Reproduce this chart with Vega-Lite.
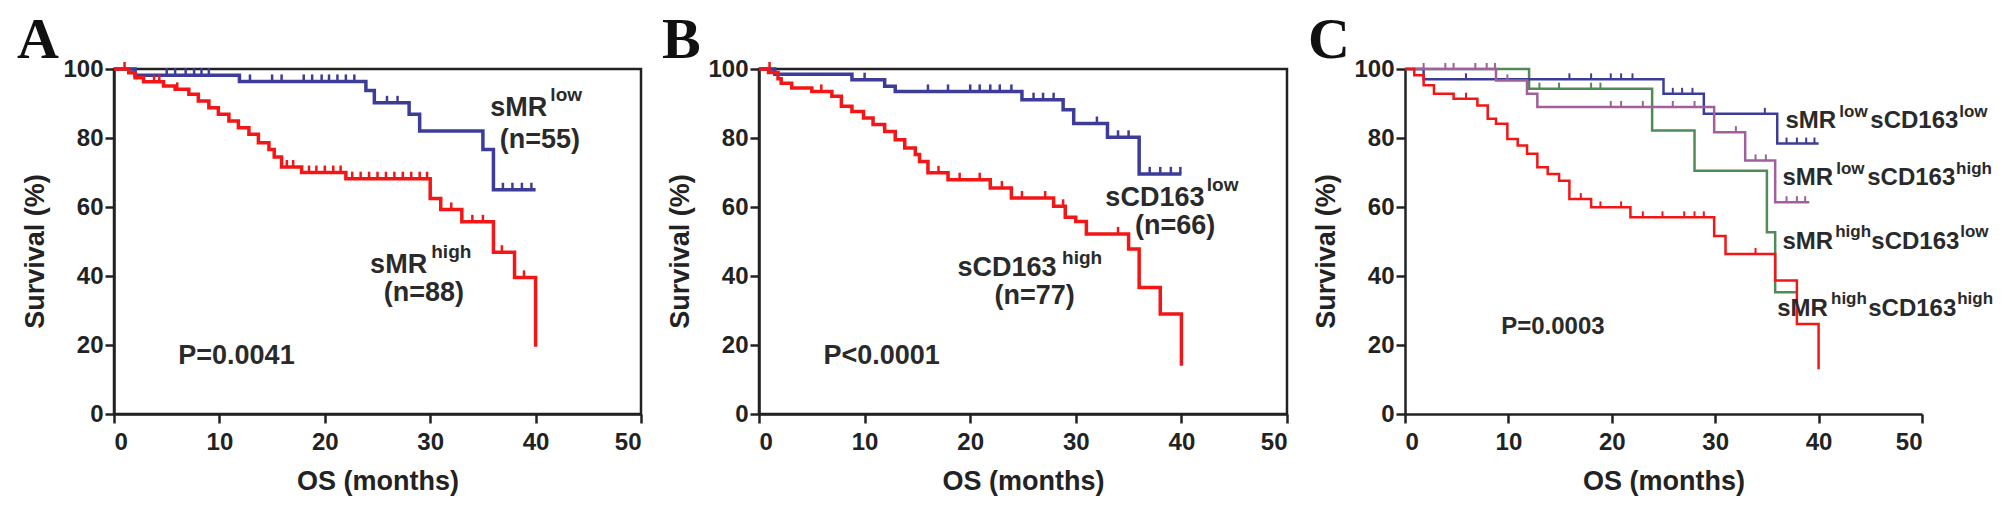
{
  "$schema": "https://vega.github.io/schema/vega-lite/v6.json",
  "background": "white",
  "padding": {"left": 15, "top": 10, "right": 0, "bottom": 0},
  "spacing": 118,
  "bounds": "flush",
  "config": {
    "view": {"stroke": "#222222", "strokeWidth": 2.5},
    "axis": {
      "grid": false,
      "domainColor": "#222222",
      "domainWidth": 2.5,
      "tickColor": "#222222",
      "tickWidth": 2.5,
      "tickSize": 9,
      "labelFont": "Liberation Sans",
      "labelFontWeight": "bold",
      "labelFontSize": 24,
      "labelColor": "#222222",
      "titleFont": "Liberation Sans",
      "titleFontWeight": "bold",
      "titleFontSize": 27,
      "titleColor": "#222222"
    },
    "axisX": {"labelPadding": 7, "titleY": 75, "titleBaseline": "alphabetic"},
    "axisY": {"labelPadding": 2, "titleX": -71, "titleY": 182, "titleBaseline": "alphabetic", "titleAlign": "center"},
    "title": {
      "anchor": "start",
      "frame": "group",
      "dx": -97,
      "offset": -13,
      "baseline": "alphabetic",
      "font": "Liberation Serif",
      "fontSize": 58,
      "fontWeight": "bold",
      "color": "#111111"
    }
  },
  "datasets": {
    "curves": [
      {"panel": "A", "group": "sMR low", "month": 0, "surv": 100},
      {"panel": "A", "group": "sMR low", "month": 2.0, "surv": 98.2},
      {"panel": "A", "group": "sMR low", "month": 11.9, "surv": 96.4},
      {"panel": "A", "group": "sMR low", "month": 23.9, "surv": 93.8},
      {"panel": "A", "group": "sMR low", "month": 24.7, "surv": 90.2},
      {"panel": "A", "group": "sMR low", "month": 28.0, "surv": 86.9},
      {"panel": "A", "group": "sMR low", "month": 29.0, "surv": 82.0},
      {"panel": "A", "group": "sMR low", "month": 35.0, "surv": 76.7},
      {"panel": "A", "group": "sMR low", "month": 36.0, "surv": 65.0},
      {"panel": "A", "group": "sMR low", "month": 40.0, "surv": 65.0},

      {"panel": "A", "group": "sMR high", "month": 0, "surv": 100},
      {"panel": "A", "group": "sMR high", "month": 1.4, "surv": 98.9},
      {"panel": "A", "group": "sMR high", "month": 2.0, "surv": 97.5},
      {"panel": "A", "group": "sMR high", "month": 2.8, "surv": 96.3},
      {"panel": "A", "group": "sMR high", "month": 4.7, "surv": 95.1},
      {"panel": "A", "group": "sMR high", "month": 5.8, "surv": 94.1},
      {"panel": "A", "group": "sMR high", "month": 7.1, "surv": 92.7},
      {"panel": "A", "group": "sMR high", "month": 8.0, "surv": 90.7},
      {"panel": "A", "group": "sMR high", "month": 9.0, "surv": 88.8},
      {"panel": "A", "group": "sMR high", "month": 9.9, "surv": 86.9},
      {"panel": "A", "group": "sMR high", "month": 10.9, "surv": 84.9},
      {"panel": "A", "group": "sMR high", "month": 11.8, "surv": 83.0},
      {"panel": "A", "group": "sMR high", "month": 12.8, "surv": 81.1},
      {"panel": "A", "group": "sMR high", "month": 13.7, "surv": 78.6},
      {"panel": "A", "group": "sMR high", "month": 14.7, "surv": 76.7},
      {"panel": "A", "group": "sMR high", "month": 15.2, "surv": 74.5},
      {"panel": "A", "group": "sMR high", "month": 15.9, "surv": 71.6},
      {"panel": "A", "group": "sMR high", "month": 17.8, "surv": 70.0},
      {"panel": "A", "group": "sMR high", "month": 22.0, "surv": 68.2},
      {"panel": "A", "group": "sMR high", "month": 30.0, "surv": 62.5},
      {"panel": "A", "group": "sMR high", "month": 31.0, "surv": 59.3},
      {"panel": "A", "group": "sMR high", "month": 33.0, "surv": 55.7},
      {"panel": "A", "group": "sMR high", "month": 36.0, "surv": 46.9},
      {"panel": "A", "group": "sMR high", "month": 38.0, "surv": 39.6},
      {"panel": "A", "group": "sMR high", "month": 40.0, "surv": 19.5},

      {"panel": "B", "group": "sCD163 low", "month": 0, "surv": 100},
      {"panel": "B", "group": "sCD163 low", "month": 1.5, "surv": 98.5},
      {"panel": "B", "group": "sCD163 low", "month": 8.8, "surv": 96.9},
      {"panel": "B", "group": "sCD163 low", "month": 11.9, "surv": 95.0},
      {"panel": "B", "group": "sCD163 low", "month": 12.9, "surv": 93.5},
      {"panel": "B", "group": "sCD163 low", "month": 24.9, "surv": 91.1},
      {"panel": "B", "group": "sCD163 low", "month": 28.8, "surv": 88.2},
      {"panel": "B", "group": "sCD163 low", "month": 29.8, "surv": 84.2},
      {"panel": "B", "group": "sCD163 low", "month": 33.0, "surv": 80.2},
      {"panel": "B", "group": "sCD163 low", "month": 36.0, "surv": 69.6},
      {"panel": "B", "group": "sCD163 low", "month": 40.0, "surv": 69.6},

      {"panel": "B", "group": "sCD163 high", "month": 0, "surv": 100},
      {"panel": "B", "group": "sCD163 high", "month": 0.9, "surv": 99.0},
      {"panel": "B", "group": "sCD163 high", "month": 1.8, "surv": 97.2},
      {"panel": "B", "group": "sCD163 high", "month": 2.1, "surv": 95.9},
      {"panel": "B", "group": "sCD163 high", "month": 3.1, "surv": 94.5},
      {"panel": "B", "group": "sCD163 high", "month": 5.0, "surv": 93.5},
      {"panel": "B", "group": "sCD163 high", "month": 6.9, "surv": 92.1},
      {"panel": "B", "group": "sCD163 high", "month": 7.8, "surv": 89.2},
      {"panel": "B", "group": "sCD163 high", "month": 8.8, "surv": 87.7},
      {"panel": "B", "group": "sCD163 high", "month": 9.9, "surv": 85.8},
      {"panel": "B", "group": "sCD163 high", "month": 10.8, "surv": 83.9},
      {"panel": "B", "group": "sCD163 high", "month": 11.9, "surv": 81.9},
      {"panel": "B", "group": "sCD163 high", "month": 12.9, "surv": 79.5},
      {"panel": "B", "group": "sCD163 high", "month": 13.8, "surv": 77.1},
      {"panel": "B", "group": "sCD163 high", "month": 14.8, "surv": 75.2},
      {"panel": "B", "group": "sCD163 high", "month": 15.2, "surv": 73.2},
      {"panel": "B", "group": "sCD163 high", "month": 16.0, "surv": 69.9},
      {"panel": "B", "group": "sCD163 high", "month": 17.9, "surv": 67.9},
      {"panel": "B", "group": "sCD163 high", "month": 21.9, "surv": 65.5},
      {"panel": "B", "group": "sCD163 high", "month": 23.9, "surv": 62.6},
      {"panel": "B", "group": "sCD163 high", "month": 27.9, "surv": 60.2},
      {"panel": "B", "group": "sCD163 high", "month": 29.0, "surv": 57.0},
      {"panel": "B", "group": "sCD163 high", "month": 30.0, "surv": 55.8},
      {"panel": "B", "group": "sCD163 high", "month": 31.0, "surv": 52.2},
      {"panel": "B", "group": "sCD163 high", "month": 35.0, "surv": 47.8},
      {"panel": "B", "group": "sCD163 high", "month": 36.0, "surv": 36.7},
      {"panel": "B", "group": "sCD163 high", "month": 38.0, "surv": 29.0},
      {"panel": "B", "group": "sCD163 high", "month": 40.0, "surv": 14.0},

      {"panel": "C", "group": "sMR high sCD163 low", "month": 0, "surv": 100},
      {"panel": "C", "group": "sMR high sCD163 low", "month": 12.0, "surv": 94.3},
      {"panel": "C", "group": "sMR high sCD163 low", "month": 23.9, "surv": 82.2},
      {"panel": "C", "group": "sMR high sCD163 low", "month": 28.0, "surv": 70.5},
      {"panel": "C", "group": "sMR high sCD163 low", "month": 35.0, "surv": 52.7},
      {"panel": "C", "group": "sMR high sCD163 low", "month": 35.8, "surv": 35.3},
      {"panel": "C", "group": "sMR high sCD163 low", "month": 37.8, "surv": 35.3},

      {"panel": "C", "group": "sMR low sCD163 low", "month": 0, "surv": 100},
      {"panel": "C", "group": "sMR low sCD163 low", "month": 1.8, "surv": 97.0},
      {"panel": "C", "group": "sMR low sCD163 low", "month": 25.0, "surv": 92.8},
      {"panel": "C", "group": "sMR low sCD163 low", "month": 28.9, "surv": 87.0},
      {"panel": "C", "group": "sMR low sCD163 low", "month": 36.0, "surv": 78.4},
      {"panel": "C", "group": "sMR low sCD163 low", "month": 40.0, "surv": 78.4},

      {"panel": "C", "group": "sMR low sCD163 high", "month": 0, "surv": 100},
      {"panel": "C", "group": "sMR low sCD163 high", "month": 8.8, "surv": 96.7},
      {"panel": "C", "group": "sMR low sCD163 high", "month": 11.8, "surv": 92.8},
      {"panel": "C", "group": "sMR low sCD163 high", "month": 12.8, "surv": 89.0},
      {"panel": "C", "group": "sMR low sCD163 high", "month": 29.9, "surv": 81.7},
      {"panel": "C", "group": "sMR low sCD163 high", "month": 32.9, "surv": 73.5},
      {"panel": "C", "group": "sMR low sCD163 high", "month": 35.8, "surv": 61.4},
      {"panel": "C", "group": "sMR low sCD163 high", "month": 39.1, "surv": 61.4},

      {"panel": "C", "group": "sMR high sCD163 high", "month": 0, "surv": 100},
      {"panel": "C", "group": "sMR high sCD163 high", "month": 0.9, "surv": 98.2},
      {"panel": "C", "group": "sMR high sCD163 high", "month": 1.8, "surv": 95.3},
      {"panel": "C", "group": "sMR high sCD163 high", "month": 2.8, "surv": 92.8},
      {"panel": "C", "group": "sMR high sCD163 high", "month": 4.7, "surv": 91.4},
      {"panel": "C", "group": "sMR high sCD163 high", "month": 7.0, "surv": 89.4},
      {"panel": "C", "group": "sMR high sCD163 high", "month": 8.0, "surv": 85.6},
      {"panel": "C", "group": "sMR high sCD163 high", "month": 8.8, "surv": 84.1},
      {"panel": "C", "group": "sMR high sCD163 high", "month": 9.9, "surv": 79.7},
      {"panel": "C", "group": "sMR high sCD163 high", "month": 10.9, "surv": 77.8},
      {"panel": "C", "group": "sMR high sCD163 high", "month": 11.8, "surv": 75.4},
      {"panel": "C", "group": "sMR high sCD163 high", "month": 12.8, "surv": 71.5},
      {"panel": "C", "group": "sMR high sCD163 high", "month": 13.8, "surv": 69.6},
      {"panel": "C", "group": "sMR high sCD163 high", "month": 14.9, "surv": 67.6},
      {"panel": "C", "group": "sMR high sCD163 high", "month": 15.9, "surv": 62.3},
      {"panel": "C", "group": "sMR high sCD163 high", "month": 18.0, "surv": 59.9},
      {"panel": "C", "group": "sMR high sCD163 high", "month": 21.8, "surv": 57.0},
      {"panel": "C", "group": "sMR high sCD163 high", "month": 29.9, "surv": 51.6},
      {"panel": "C", "group": "sMR high sCD163 high", "month": 31.0, "surv": 46.4},
      {"panel": "C", "group": "sMR high sCD163 high", "month": 35.8, "surv": 38.7},
      {"panel": "C", "group": "sMR high sCD163 high", "month": 37.9, "surv": 26.1},
      {"panel": "C", "group": "sMR high sCD163 high", "month": 40.0, "surv": 13.0}
    ],
    "censored": [
      {"panel": "A", "group": "sMR low", "month": 5.0, "surv": 98.2},
      {"panel": "A", "group": "sMR low", "month": 5.8, "surv": 98.2},
      {"panel": "A", "group": "sMR low", "month": 6.8, "surv": 98.2},
      {"panel": "A", "group": "sMR low", "month": 7.6, "surv": 98.2},
      {"panel": "A", "group": "sMR low", "month": 8.3, "surv": 98.2},
      {"panel": "A", "group": "sMR low", "month": 9.0, "surv": 98.2},
      {"panel": "A", "group": "sMR low", "month": 12.9, "surv": 96.4},
      {"panel": "A", "group": "sMR low", "month": 15.0, "surv": 96.4},
      {"panel": "A", "group": "sMR low", "month": 15.9, "surv": 96.4},
      {"panel": "A", "group": "sMR low", "month": 18.0, "surv": 96.4},
      {"panel": "A", "group": "sMR low", "month": 18.8, "surv": 96.4},
      {"panel": "A", "group": "sMR low", "month": 19.7, "surv": 96.4},
      {"panel": "A", "group": "sMR low", "month": 20.4, "surv": 96.4},
      {"panel": "A", "group": "sMR low", "month": 21.2, "surv": 96.4},
      {"panel": "A", "group": "sMR low", "month": 22.0, "surv": 96.4},
      {"panel": "A", "group": "sMR low", "month": 22.8, "surv": 96.4},
      {"panel": "A", "group": "sMR low", "month": 25.9, "surv": 90.2},
      {"panel": "A", "group": "sMR low", "month": 26.9, "surv": 90.2},
      {"panel": "A", "group": "sMR low", "month": 36.9, "surv": 65.0},
      {"panel": "A", "group": "sMR low", "month": 37.8, "surv": 65.0},
      {"panel": "A", "group": "sMR low", "month": 38.7, "surv": 65.0},
      {"panel": "A", "group": "sMR low", "month": 39.6, "surv": 65.0},

      {"panel": "A", "group": "sMR high", "month": 1.0, "surv": 100},
      {"panel": "A", "group": "sMR high", "month": 3.8, "surv": 96.3},
      {"panel": "A", "group": "sMR high", "month": 4.3, "surv": 96.3},
      {"panel": "A", "group": "sMR high", "month": 6.0, "surv": 94.1},
      {"panel": "A", "group": "sMR high", "month": 16.4, "surv": 71.6},
      {"panel": "A", "group": "sMR high", "month": 17.0, "surv": 71.6},
      {"panel": "A", "group": "sMR high", "month": 18.5, "surv": 70.0},
      {"panel": "A", "group": "sMR high", "month": 19.2, "surv": 70.0},
      {"panel": "A", "group": "sMR high", "month": 20.0, "surv": 70.0},
      {"panel": "A", "group": "sMR high", "month": 20.8, "surv": 70.0},
      {"panel": "A", "group": "sMR high", "month": 21.5, "surv": 70.0},
      {"panel": "A", "group": "sMR high", "month": 22.6, "surv": 68.2},
      {"panel": "A", "group": "sMR high", "month": 23.4, "surv": 68.2},
      {"panel": "A", "group": "sMR high", "month": 24.2, "surv": 68.2},
      {"panel": "A", "group": "sMR high", "month": 25.0, "surv": 68.2},
      {"panel": "A", "group": "sMR high", "month": 25.8, "surv": 68.2},
      {"panel": "A", "group": "sMR high", "month": 26.6, "surv": 68.2},
      {"panel": "A", "group": "sMR high", "month": 27.4, "surv": 68.2},
      {"panel": "A", "group": "sMR high", "month": 28.2, "surv": 68.2},
      {"panel": "A", "group": "sMR high", "month": 29.0, "surv": 68.2},
      {"panel": "A", "group": "sMR high", "month": 29.7, "surv": 68.2},
      {"panel": "A", "group": "sMR high", "month": 32.0, "surv": 59.3},
      {"panel": "A", "group": "sMR high", "month": 34.0, "surv": 55.7},
      {"panel": "A", "group": "sMR high", "month": 35.0, "surv": 55.7},
      {"panel": "A", "group": "sMR high", "month": 36.8, "surv": 46.9},
      {"panel": "A", "group": "sMR high", "month": 38.9, "surv": 39.6},

      {"panel": "B", "group": "sCD163 low", "month": 10.0, "surv": 96.9},
      {"panel": "B", "group": "sCD163 low", "month": 16.0, "surv": 93.5},
      {"panel": "B", "group": "sCD163 low", "month": 17.9, "surv": 93.5},
      {"panel": "B", "group": "sCD163 low", "month": 20.0, "surv": 93.5},
      {"panel": "B", "group": "sCD163 low", "month": 20.9, "surv": 93.5},
      {"panel": "B", "group": "sCD163 low", "month": 21.9, "surv": 93.5},
      {"panel": "B", "group": "sCD163 low", "month": 22.8, "surv": 93.5},
      {"panel": "B", "group": "sCD163 low", "month": 23.9, "surv": 93.5},
      {"panel": "B", "group": "sCD163 low", "month": 26.0, "surv": 91.1},
      {"panel": "B", "group": "sCD163 low", "month": 26.9, "surv": 91.1},
      {"panel": "B", "group": "sCD163 low", "month": 27.9, "surv": 91.1},
      {"panel": "B", "group": "sCD163 low", "month": 32.0, "surv": 84.2},
      {"panel": "B", "group": "sCD163 low", "month": 34.0, "surv": 80.2},
      {"panel": "B", "group": "sCD163 low", "month": 35.0, "surv": 80.2},
      {"panel": "B", "group": "sCD163 low", "month": 37.0, "surv": 69.6},
      {"panel": "B", "group": "sCD163 low", "month": 38.0, "surv": 69.6},
      {"panel": "B", "group": "sCD163 low", "month": 39.0, "surv": 69.6},
      {"panel": "B", "group": "sCD163 low", "month": 39.9, "surv": 69.6},

      {"panel": "B", "group": "sCD163 high", "month": 1.0, "surv": 100},
      {"panel": "B", "group": "sCD163 high", "month": 5.9, "surv": 93.5},
      {"panel": "B", "group": "sCD163 high", "month": 17.0, "surv": 69.9},
      {"panel": "B", "group": "sCD163 high", "month": 19.0, "surv": 67.9},
      {"panel": "B", "group": "sCD163 high", "month": 20.9, "surv": 67.9},
      {"panel": "B", "group": "sCD163 high", "month": 23.0, "surv": 65.5},
      {"panel": "B", "group": "sCD163 high", "month": 24.9, "surv": 62.6},
      {"panel": "B", "group": "sCD163 high", "month": 27.1, "surv": 62.6},
      {"panel": "B", "group": "sCD163 high", "month": 28.8, "surv": 60.2},
      {"panel": "B", "group": "sCD163 high", "month": 34.0, "surv": 52.2},

      {"panel": "C", "group": "sMR high sCD163 low", "month": 13.0, "surv": 94.3},
      {"panel": "C", "group": "sMR high sCD163 low", "month": 14.9, "surv": 94.3},
      {"panel": "C", "group": "sMR high sCD163 low", "month": 18.0, "surv": 94.3},
      {"panel": "C", "group": "sMR high sCD163 low", "month": 18.9, "surv": 94.3},

      {"panel": "C", "group": "sMR low sCD163 low", "month": 5.9, "surv": 97.0},
      {"panel": "C", "group": "sMR low sCD163 low", "month": 15.9, "surv": 97.0},
      {"panel": "C", "group": "sMR low sCD163 low", "month": 18.0, "surv": 97.0},
      {"panel": "C", "group": "sMR low sCD163 low", "month": 19.9, "surv": 97.0},
      {"panel": "C", "group": "sMR low sCD163 low", "month": 20.9, "surv": 97.0},
      {"panel": "C", "group": "sMR low sCD163 low", "month": 22.0, "surv": 97.0},
      {"panel": "C", "group": "sMR low sCD163 low", "month": 25.9, "surv": 92.8},
      {"panel": "C", "group": "sMR low sCD163 low", "month": 26.8, "surv": 92.8},
      {"panel": "C", "group": "sMR low sCD163 low", "month": 27.8, "surv": 92.8},
      {"panel": "C", "group": "sMR low sCD163 low", "month": 34.8, "surv": 87.0},
      {"panel": "C", "group": "sMR low sCD163 low", "month": 36.9, "surv": 78.4},
      {"panel": "C", "group": "sMR low sCD163 low", "month": 37.9, "surv": 78.4},
      {"panel": "C", "group": "sMR low sCD163 low", "month": 38.8, "surv": 78.4},
      {"panel": "C", "group": "sMR low sCD163 low", "month": 39.6, "surv": 78.4},

      {"panel": "C", "group": "sMR low sCD163 high", "month": 1.8, "surv": 100},
      {"panel": "C", "group": "sMR low sCD163 high", "month": 3.9, "surv": 100},
      {"panel": "C", "group": "sMR low sCD163 high", "month": 4.7, "surv": 100},
      {"panel": "C", "group": "sMR low sCD163 high", "month": 6.8, "surv": 100},
      {"panel": "C", "group": "sMR low sCD163 high", "month": 7.9, "surv": 100},
      {"panel": "C", "group": "sMR low sCD163 high", "month": 8.7, "surv": 100},
      {"panel": "C", "group": "sMR low sCD163 high", "month": 9.9, "surv": 96.7},
      {"panel": "C", "group": "sMR low sCD163 high", "month": 19.9, "surv": 89.0},
      {"panel": "C", "group": "sMR low sCD163 high", "month": 20.9, "surv": 89.0},
      {"panel": "C", "group": "sMR low sCD163 high", "month": 23.0, "surv": 89.0},
      {"panel": "C", "group": "sMR low sCD163 high", "month": 25.9, "surv": 89.0},
      {"panel": "C", "group": "sMR low sCD163 high", "month": 28.0, "surv": 89.0},
      {"panel": "C", "group": "sMR low sCD163 high", "month": 32.0, "surv": 81.7},
      {"panel": "C", "group": "sMR low sCD163 high", "month": 33.9, "surv": 73.5},
      {"panel": "C", "group": "sMR low sCD163 high", "month": 34.9, "surv": 73.5},
      {"panel": "C", "group": "sMR low sCD163 high", "month": 36.9, "surv": 61.4},
      {"panel": "C", "group": "sMR low sCD163 high", "month": 37.9, "surv": 61.4},
      {"panel": "C", "group": "sMR low sCD163 high", "month": 38.7, "surv": 61.4},

      {"panel": "C", "group": "sMR high sCD163 high", "month": 5.9, "surv": 91.4},
      {"panel": "C", "group": "sMR high sCD163 high", "month": 17.0, "surv": 62.3},
      {"panel": "C", "group": "sMR high sCD163 high", "month": 18.9, "surv": 59.9},
      {"panel": "C", "group": "sMR high sCD163 high", "month": 20.9, "surv": 59.9},
      {"panel": "C", "group": "sMR high sCD163 high", "month": 23.0, "surv": 57.0},
      {"panel": "C", "group": "sMR high sCD163 high", "month": 24.9, "surv": 57.0},
      {"panel": "C", "group": "sMR high sCD163 high", "month": 27.0, "surv": 57.0},
      {"panel": "C", "group": "sMR high sCD163 high", "month": 28.0, "surv": 57.0},
      {"panel": "C", "group": "sMR high sCD163 high", "month": 28.9, "surv": 57.0},
      {"panel": "C", "group": "sMR high sCD163 high", "month": 33.9, "surv": 46.4}
    ],
    "labels": [
      {"panel": "A", "kind": "main", "month": 35.7, "surv": 86.4, "text": "sMR"},
      {"panel": "A", "kind": "sup", "month": 41.4, "surv": 90.7, "text": "low"},
      {"panel": "A", "kind": "main", "month": 36.6, "surv": 77.1, "text": "(n=55)"},
      {"panel": "A", "kind": "main", "month": 24.3, "surv": 41.0, "text": "sMR"},
      {"panel": "A", "kind": "sup", "month": 30.1, "surv": 45.2, "text": "high"},
      {"panel": "A", "kind": "main", "month": 25.6, "surv": 32.8, "text": "(n=88)"},
      {"panel": "A", "kind": "main", "month": 6.1, "surv": 14.5, "text": "P=0.0041"},

      {"panel": "B", "kind": "main", "month": 32.8, "surv": 60.3, "text": "sCD163"},
      {"panel": "B", "kind": "sup", "month": 42.4, "surv": 64.6, "text": "low"},
      {"panel": "B", "kind": "main", "month": 35.6, "surv": 52.2, "text": "(n=66)"},
      {"panel": "B", "kind": "main", "month": 18.8, "surv": 40.0, "text": "sCD163"},
      {"panel": "B", "kind": "sup", "month": 28.7, "surv": 43.5, "text": "high"},
      {"panel": "B", "kind": "main", "month": 22.3, "surv": 31.9, "text": "(n=77)"},
      {"panel": "B", "kind": "main", "month": 6.1, "surv": 14.5, "text": "P<0.0001"},

      {"panel": "C", "kind": "main", "month": 36.8, "surv": 82.8, "text": "sMR"},
      {"panel": "C", "kind": "sup", "month": 42.0, "surv": 86.0, "text": "low"},
      {"panel": "C", "kind": "main", "month": 45.0, "surv": 82.8, "text": "sCD163"},
      {"panel": "C", "kind": "sup", "month": 53.6, "surv": 86.0, "text": "low"},
      {"panel": "C", "kind": "main", "month": 36.5, "surv": 66.3, "text": "sMR"},
      {"panel": "C", "kind": "sup", "month": 41.7, "surv": 69.5, "text": "low"},
      {"panel": "C", "kind": "main", "month": 44.7, "surv": 66.3, "text": "sCD163"},
      {"panel": "C", "kind": "sup", "month": 53.3, "surv": 69.5, "text": "high"},
      {"panel": "C", "kind": "main", "month": 36.5, "surv": 47.9, "text": "sMR"},
      {"panel": "C", "kind": "sup", "month": 41.6, "surv": 51.3, "text": "high"},
      {"panel": "C", "kind": "main", "month": 45.1, "surv": 47.9, "text": "sCD163"},
      {"panel": "C", "kind": "sup", "month": 53.7, "surv": 51.3, "text": "low"},
      {"panel": "C", "kind": "main", "month": 36.0, "surv": 28.5, "text": "sMR"},
      {"panel": "C", "kind": "sup", "month": 41.2, "surv": 32.0, "text": "high"},
      {"panel": "C", "kind": "main", "month": 44.8, "surv": 28.5, "text": "sCD163"},
      {"panel": "C", "kind": "sup", "month": 53.4, "surv": 32.0, "text": "high"},
      {"panel": "C", "kind": "main", "month": 9.3, "surv": 23.3, "text": "P=0.0003"}
    ]
  },
  "hconcat": [
    {
      "width": 527,
      "height": 345,
      "title": {"text": "A"},
      "encoding": {
        "x": {"field": "month", "type": "quantitative", "scale": {"domain": [0, 50]}, "axis": {"values": [0, 10, 20, 30, 40, 50], "title": "OS (months)"}},
        "y": {"field": "surv", "type": "quantitative", "scale": {"domain": [0, 100]}, "axis": {"values": [0, 20, 40, 60, 80, 100], "title": "Survival (%)"}}
      },
      "layer": [
        {
          "data": {"name": "curves"},
          "transform": [{"filter": "datum.panel === 'A'"}],
          "mark": {"type": "line", "interpolate": "step-after", "strokeWidth": 3.5},
          "encoding": {"color": {"field": "group", "type": "nominal", "legend": null, "scale": {"domain": ["sMR low", "sMR high", "sCD163 low", "sCD163 high", "sMR low sCD163 low", "sMR low sCD163 high", "sMR high sCD163 low", "sMR high sCD163 high"], "range": ["#3d3d99", "#f21616", "#3d3d99", "#f21616", "#3d3d99", "#a0609c", "#4f8a57", "#f21616"]}}}
        },
        {
          "data": {"name": "censored"},
          "transform": [{"filter": "datum.panel === 'A'"}],
          "mark": {"type": "tick", "orient": "vertical", "size": 7, "thickness": 2.5, "yOffset": -3.5, "opacity": 1},
          "encoding": {"color": {"field": "group", "type": "nominal", "legend": null}}
        },
        {
          "data": {"name": "labels"},
          "transform": [{"filter": "datum.panel === 'A' && datum.kind === 'main'"}],
          "mark": {"type": "text", "align": "left", "baseline": "alphabetic", "font": "Liberation Sans", "fontWeight": "bold", "fontSize": 27, "color": "#2a2a2a"},
          "encoding": {"text": {"field": "text"}}
        },
        {
          "data": {"name": "labels"},
          "transform": [{"filter": "datum.panel === 'A' && datum.kind === 'sup'"}],
          "mark": {"type": "text", "align": "left", "baseline": "alphabetic", "font": "Liberation Sans", "fontWeight": "bold", "fontSize": 19, "color": "#2a2a2a"},
          "encoding": {"text": {"field": "text"}}
        }
      ]
    },
    {
      "width": 528,
      "height": 345,
      "title": {"text": "B"},
      "encoding": {
        "x": {"field": "month", "type": "quantitative", "scale": {"domain": [0, 50]}, "axis": {"values": [0, 10, 20, 30, 40, 50], "title": "OS (months)"}},
        "y": {"field": "surv", "type": "quantitative", "scale": {"domain": [0, 100]}, "axis": {"values": [0, 20, 40, 60, 80, 100], "title": "Survival (%)"}}
      },
      "layer": [
        {
          "data": {"name": "curves"},
          "transform": [{"filter": "datum.panel === 'B'"}],
          "mark": {"type": "line", "interpolate": "step-after", "strokeWidth": 3.5},
          "encoding": {"color": {"field": "group", "type": "nominal", "legend": null}}
        },
        {
          "data": {"name": "censored"},
          "transform": [{"filter": "datum.panel === 'B'"}],
          "mark": {"type": "tick", "orient": "vertical", "size": 7, "thickness": 2.5, "yOffset": -3.5, "opacity": 1},
          "encoding": {"color": {"field": "group", "type": "nominal", "legend": null}}
        },
        {
          "data": {"name": "labels"},
          "transform": [{"filter": "datum.panel === 'B' && datum.kind === 'main'"}],
          "mark": {"type": "text", "align": "left", "baseline": "alphabetic", "font": "Liberation Sans", "fontWeight": "bold", "fontSize": 27, "color": "#2a2a2a"},
          "encoding": {"text": {"field": "text"}}
        },
        {
          "data": {"name": "labels"},
          "transform": [{"filter": "datum.panel === 'B' && datum.kind === 'sup'"}],
          "mark": {"type": "text", "align": "left", "baseline": "alphabetic", "font": "Liberation Sans", "fontWeight": "bold", "fontSize": 19, "color": "#2a2a2a"},
          "encoding": {"text": {"field": "text"}}
        }
      ]
    },
    {
      "width": 517,
      "height": 345,
      "title": {"text": "C"},
      "view": {"stroke": null},
      "encoding": {
        "x": {"field": "month", "type": "quantitative", "scale": {"domain": [0, 50]}, "axis": {"values": [0, 10, 20, 30, 40, 50], "title": "OS (months)"}},
        "y": {"field": "surv", "type": "quantitative", "scale": {"domain": [0, 100]}, "axis": {"values": [0, 20, 40, 60, 80, 100], "title": "Survival (%)"}}
      },
      "layer": [
        {
          "data": {"name": "curves"},
          "transform": [{"filter": "datum.panel === 'C'"}],
          "mark": {"type": "line", "interpolate": "step-after", "strokeWidth": 2.5},
          "encoding": {"color": {"field": "group", "type": "nominal", "legend": null}}
        },
        {
          "data": {"name": "censored"},
          "transform": [{"filter": "datum.panel === 'C'"}],
          "mark": {"type": "tick", "orient": "vertical", "size": 6, "thickness": 2, "yOffset": -3, "opacity": 1},
          "encoding": {"color": {"field": "group", "type": "nominal", "legend": null}}
        },
        {
          "data": {"name": "labels"},
          "transform": [{"filter": "datum.panel === 'C' && datum.kind === 'main'"}],
          "mark": {"type": "text", "align": "left", "baseline": "alphabetic", "font": "Liberation Sans", "fontWeight": "bold", "fontSize": 24, "color": "#2a2a2a"},
          "encoding": {"text": {"field": "text"}}
        },
        {
          "data": {"name": "labels"},
          "transform": [{"filter": "datum.panel === 'C' && datum.kind === 'sup'"}],
          "mark": {"type": "text", "align": "left", "baseline": "alphabetic", "font": "Liberation Sans", "fontWeight": "bold", "fontSize": 17, "color": "#2a2a2a"},
          "encoding": {"text": {"field": "text"}}
        }
      ]
    }
  ]
}
